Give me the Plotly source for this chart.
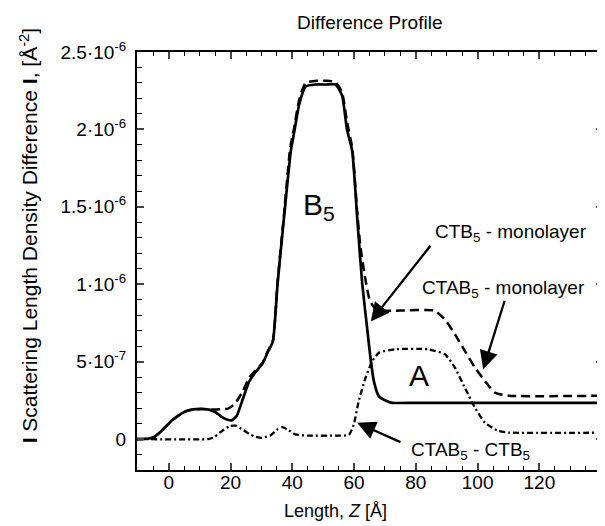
import plotly.graph_objects as go

# ---------------- data ----------------
z_solid = [-10.3, -7, -5, -3, -1, 1, 3, 5, 7, 9, 11, 13, 15, 17, 19, 20.5, 22, 24, 26, 28,
           30.4, 32, 33.7, 35.2, 37.3, 39.5, 40.5, 42.2, 44.3, 47.5, 51, 54, 56.1, 57.7,
           59.4, 61, 62.6, 64.2, 65.3, 66.4, 68, 70, 72.3, 80, 100, 120, 141]
ctb5_mono = [0, 0.02e-7, 0.1e-7, 0.4e-7, 0.8e-7, 1.2e-7, 1.5e-7, 1.75e-7, 1.88e-7, 1.93e-7,
             1.94e-7, 1.9e-7, 1.75e-7, 1.45e-7, 1.25e-7, 1.22e-7, 1.5e-7, 2.6e-7, 3.7e-7,
             4.3e-7, 4.9e-7, 5.6e-7, 6.3e-7, 9.98e-7, 1.43e-6, 1.86e-6, 1.97e-6, 2.16e-6,
             2.277e-6, 2.29e-6, 2.29e-6, 2.29e-6, 2.22e-6, 2.0e-6, 1.86e-6, 1.43e-6, 1.01e-6,
             7.2e-7, 5.25e-7, 3.74e-7, 2.77e-7, 2.5e-7, 2.34e-7, 2.34e-7, 2.34e-7, 2.34e-7,
             2.34e-7]

z_dash = [-10.3, -7, -5, -3, -1, 1, 3, 5, 7, 9, 11, 13, 15, 17, 19, 21, 22, 24, 26, 28,
          30.4, 32, 33.7, 35.2, 37.3, 39.3, 40.5, 42.2, 44.3, 48, 51, 54, 56.1, 57.7, 59.4,
          61, 62, 63.5, 65, 66.5, 68, 75, 86, 89.5, 92.7, 95.9, 99.2, 102.4, 105.6, 110, 141]
ctab5_mono = [0, 0.02e-7, 0.1e-7, 0.4e-7, 0.8e-7, 1.2e-7, 1.5e-7, 1.75e-7, 1.88e-7, 1.93e-7,
              1.94e-7, 1.92e-7, 1.9e-7, 1.93e-7, 1.95e-7, 2.2e-7, 2.45e-7, 3.1e-7, 3.96e-7,
              4.4e-7, 4.95e-7, 5.65e-7, 6.35e-7, 1.01e-6, 1.45e-6, 1.88e-6, 2.0e-6, 2.19e-6,
              2.3e-6, 2.314e-6, 2.314e-6, 2.305e-6, 2.24e-6, 2.05e-6, 1.88e-6, 1.47e-6,
              1.25e-6, 1.05e-6, 9.0e-7, 8.5e-7, 8.3e-7, 8.3e-7, 8.3e-7, 7.7e-7, 6.75e-7,
              5.68e-7, 4.6e-7, 3.74e-7, 3.0e-7, 2.8e-7, 2.8e-7]

z_dd = [-10.3, 12.7, 14.5, 16.4, 19.7, 21.7, 24, 26.1, 28, 30.3, 33, 35, 36.8, 38.5, 41, 45,
        54, 58.3, 59.9, 61.5, 63.7, 65.8, 68, 73.4, 84, 89.5, 92.7, 95.9, 99.2, 102.4, 106.7,
        110, 141]
ctab5_ctb5 = [0, 0, 0.1e-7, 0.4e-7, 0.84e-7, 0.86e-7, 0.6e-7, 0.32e-7, 0.15e-7, 0.08e-7,
              0.25e-7, 0.6e-7, 0.77e-7, 0.6e-7, 0.3e-7, 0.22e-7, 0.22e-7, 0.27e-7, 0.95e-7,
              2.45e-7, 3.95e-7, 5.0e-7, 5.57e-7, 5.8e-7, 5.8e-7, 5.46e-7, 4.6e-7, 3.3e-7,
              2.0e-7, 1.05e-7, 0.52e-7, 0.42e-7, 0.41e-7]

y_tickvals = [0, 5e-7, 1e-6, 1.5e-6, 2e-6, 2.5e-6]
y_ticktext = ["0", "5·10<sup>-7</sup>", "1·10<sup>-6</sup>", "1.5·10<sup>-6</sup>",
              "2·10<sup>-6</sup>", "2.5·10<sup>-6</sup>"]
x_tickvals = [0, 20, 40, 60, 80, 100, 120]

FONT = "Liberation Sans, Arial, sans-serif"

fig = go.Figure()
fig.add_trace(go.Scatter(x=z_solid, y=ctb5_mono, mode="lines", name="CTB5 - monolayer",
                         line=dict(color="black", width=2.7, shape="spline", smoothing=0.5)))
fig.add_trace(go.Scatter(x=z_dash, y=ctab5_mono, mode="lines", name="CTAB5 - monolayer",
                         line=dict(color="black", width=2.5, dash="9px,5px",
                                   shape="spline", smoothing=0.5)))
fig.add_trace(go.Scatter(x=z_dd, y=ctab5_ctb5, mode="lines", name="CTAB5 - CTB5",
                         line=dict(color="black", width=2.3, dash="6px,3px,2px,3px",
                                   shape="spline", smoothing=0.5)))

ann = []
# arrows (tail -> head in data coordinates)
arrows = [((85.1, 1.258e-6), (65.4, 7.6e-7)),
          ((108.9, 9.03e-7), (101.8, 4.5e-7)),
          ((75.5, -0.24e-7), (61.0, 1.05e-7))]
for (tx, ty), (hx, hy) in arrows:
    ann.append(dict(x=hx, y=hy, ax=tx, ay=ty, xref="x", yref="y", axref="x", ayref="y",
                    text="", showarrow=True, arrowhead=2, arrowsize=1.6, arrowwidth=2.3,
                    arrowcolor="black"))
labels = [("CTB<sub>5</sub> - monolayer", 110.9, 1.331e-6, 19),
          ("CTAB<sub>5</sub> - monolayer", 108.3, 0.968e-6, 19),
          ("CTAB<sub>5</sub> - CTB<sub>5</sub>", 97.7, -0.77e-7, 19),
          ("B<sub>5</sub>", 48.6, 1.503e-6, 30),
          ("A", 81.1, 4.13e-7, 30)]
for t, x, y, s in labels:
    ann.append(dict(x=x, y=y, xref="x", yref="y", text=t, showarrow=False,
                    font=dict(size=s, color="black", family=FONT),
                    xanchor="center", yanchor="middle"))
# axis titles
ann.append(dict(x=-0.233, y=0.56, xref="paper", yref="paper", textangle=-90,
                text="<b>I</b> Scattering Length Density Difference <b>I</b>, [Å<sup>-2</sup>]",
                showarrow=False, font=dict(size=21, color="black", family=FONT),
                xanchor="center", yanchor="middle"))
ann.append(dict(x=0.427, y=-0.098, xref="paper", yref="paper",
                text="Length, <i>Z</i> [Å]", showarrow=False,
                font=dict(size=18, color="black", family=FONT),
                xanchor="center", yanchor="middle"))

# the page body adds an 8px offset: figure is sized/margined to compensate
fig.update_layout(
    width=597, height=518,
    margin=dict(l=129, r=0, t=44, b=56),
    paper_bgcolor="white", plot_bgcolor="white",
    showlegend=False,
    font=dict(family=FONT, size=19, color="black"),
    title=dict(text="Difference Profile", x=0.606, xanchor="center", y=0.973,
               yanchor="middle", font=dict(size=19, color="black", family=FONT)),
    annotations=ann,
)
fig.update_xaxes(range=[-10.3, 140.6], tickvals=x_tickvals, ticks="inside", ticklen=7,
                 tickwidth=1.5, showline=True, linewidth=2, linecolor="black",
                 mirror="ticks", showgrid=False, zeroline=False,
                 tickfont=dict(size=19, family=FONT), ticklabelstandoff=-6,
                 minor=dict(dtick=5, ticks="inside", ticklen=4, tickwidth=1.2,
                            tickcolor="black", showgrid=False))
fig.update_yaxes(range=[-2.0e-7, 2.5e-6], tickvals=y_tickvals, ticktext=y_ticktext,
                 ticks="inside", ticklen=7, tickwidth=1.5, showline=True, linewidth=2,
                 linecolor="black", mirror="ticks", showgrid=False, zeroline=False,
                 tickfont=dict(size=19, family=FONT), ticklabelstandoff=5,
                 minor=dict(dtick=1e-7, ticks="inside", ticklen=5, tickwidth=1.2,
                            tickcolor="black", showgrid=False))

fig.write_html("out.html")
